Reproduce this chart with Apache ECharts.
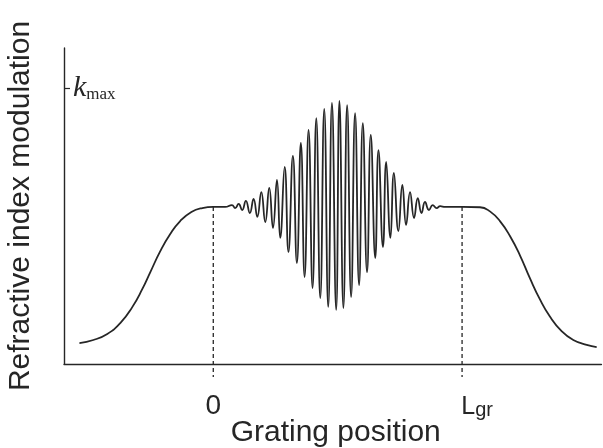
<!DOCTYPE html>
<html>
<head>
<meta charset="utf-8">
<script src="https://cdn.jsdelivr.net/npm/echarts@6/dist/echarts.min.js"></script>
<style>
  html, body { margin: 0; padding: 0; background: #ffffff; }
  #chart { width: 603px; height: 448px; }
</style>
</head>
<body>
<div id="chart"></div>
<script>
// Position along the fibre in % of the grating length L_gr,
// modulation depth in % of k_max.

// smooth ramp-up of the background index before the grating
const riseX = [-53.8, -48.2, -42.6, -37.3, -32.5, -28.5, -25.3, -21.3, -17.3, -13.3, -8.8, -4.4, 0];
const riseY = [7.6, 8.7, 10.9, 14.9, 20.7, 27.2, 33.3, 40.9, 47.1, 51.8, 55.1, 56.5, 56.9];

// apodised grating: successive maxima and minima of the index modulation
const gratingX = [4.8, 7.5, 8.8, 10.2, 11.6, 13.1, 14.7, 16.2, 17.7, 19.3, 20.9, 22.5, 24.0, 25.6, 26.9,
  28.7, 30.2, 32.0, 33.6, 35.2, 36.7, 38.3, 39.9, 41.4, 43.0, 44.6, 46.2, 47.7, 49.4, 50.7, 52.3, 53.8,
  55.4, 57.0, 58.6, 60.1, 61.8, 63.3, 65.1, 66.4, 68.2, 69.5, 71.2, 72.6, 74.4, 76.0, 77.5, 79.1, 80.7,
  82.2, 83.7, 85.1, 86.7, 88.2, 89.8, 91.2, 93.2, 100];
const gratingY = [56.9, 57.6, 56.5, 58.0, 55.8, 59.1, 54.7, 59.8, 53.3, 62.3, 51.4, 63.8, 49.3, 66.7, 45.7,
  71.4, 40.6, 75.4, 36.6, 80.1, 31.5, 84.8, 27.5, 89.1, 23.9, 92.4, 20.7, 94.6, 19.6, 95.3, 20.3, 93.8,
  24.3, 90.9, 28.6, 87.3, 33.3, 83.0, 38.4, 77.5, 42.4, 73.2, 45.7, 69.2, 48.2, 64.9, 50.4, 62.3, 52.9,
  60.1, 54.7, 58.7, 55.8, 57.6, 56.5, 57.2, 56.9, 56.9];

// smooth ramp-down after the grating
const fallX = [107.2, 111.2, 115.3, 119.3, 123.3, 127.3, 131.3, 135.3, 140.0, 144.7, 150.1, 154.1];
const fallY = [56.8, 55.3, 51.7, 46.3, 39.3, 31.0, 23.4, 17.2, 11.9, 8.7, 6.9, 6.1];

// tick marks and their labels
const xTickValues = [0, 100];
const xTickLabels = ['{n|0}', '{sp|}{l|L}{s|gr}'];
const yTickValues = [100];
const yTickLabels = ['{k|k}{m|max}'];

const profile = []
  .concat(riseX.map((x, i) => [x, riseY[i]]))
  .concat(gratingX.map((x, i) => [x, gratingY[i]]))
  .concat(fallX.map((x, i) => [x, fallY[i]]));

// dashed markers at both grating ends, running from the curve to just below the axis
const guideBottom = -4.7;
const startLevel = riseY[riseY.length - 1];
const endLevel = gratingY[gratingY.length - 1];

const ink = '#262626';
const sans = 'Liberation Sans, Arial, sans-serif';
const serif = 'Liberation Serif, Times New Roman, serif';

const chart = echarts.init(document.getElementById('chart'), null, { renderer: 'canvas' });
chart.setOption({
  animation: false,
  backgroundColor: '#ffffff',
  grid: { left: 64, right: 1.6, top: 48, bottom: 84, outerBoundsMode: 'none', containLabel: false },
  xAxis: {
    type: 'value',
    min: -60,
    max: 156,
    name: 'Grating position',
    nameLocation: 'middle',
    nameGap: 54,
    nameMoveOverlap: false,
    nameTextStyle: { fontFamily: sans, fontSize: 30, color: ink, padding: [0, 0, 0, 6] },
    axisLine: { show: true, onZero: false, lineStyle: { color: ink, width: 1.4 } },
    axisTick: { show: false },
    splitLine: { show: false },
    axisLabel: {
      customValues: xTickValues,
      margin: 28,
      color: ink,
      formatter: (v) => xTickLabels[xTickValues.indexOf(v)] || '',
      rich: {
        n: { fontFamily: sans, fontSize: 28, color: ink, lineHeight: 28 },
        sp: { width: 30, height: 10 },
        l: { fontFamily: sans, fontSize: 25, color: ink, lineHeight: 28, verticalAlign: 'bottom' },
        s: { fontFamily: sans, fontSize: 20, color: ink, lineHeight: 16, verticalAlign: 'bottom' }
      }
    }
  },
  yAxis: {
    type: 'value',
    min: 0,
    max: 114.5,
    name: 'Refractive index modulation',
    nameLocation: 'middle',
    nameGap: 28,
    nameMoveOverlap: false,
    nameTextStyle: { fontFamily: sans, fontSize: 30, color: ink },
    axisLine: { show: true, onZero: false, lineStyle: { color: ink, width: 1.4 } },
    axisTick: { show: true, inside: true, length: 6, customValues: yTickValues, lineStyle: { color: ink, width: 1.2 } },
    splitLine: { show: false },
    axisLabel: {
      customValues: yTickValues,
      inside: true,
      margin: 9,
      color: ink,
      formatter: (v) => yTickLabels[yTickValues.indexOf(v)] || '',
      rich: {
        k: { fontFamily: serif, fontStyle: 'italic', fontSize: 30, color: ink, lineHeight: 30, verticalAlign: 'bottom' },
        m: { fontFamily: serif, fontSize: 17, color: ink, lineHeight: 12, verticalAlign: 'bottom' }
      }
    }
  },
  series: [
    {
      type: 'line',
      data: profile,
      smooth: 0.5,
      symbol: 'none',
      lineStyle: { color: ink, width: 1.8 },
      z: 3
    },
    {
      type: 'line',
      data: [[xTickValues[0], startLevel], [xTickValues[0], guideBottom]],
      symbol: 'none',
      clip: false,
      lineStyle: { color: ink, width: 1.3, type: [4, 3] },
      z: 2
    },
    {
      type: 'line',
      data: [[xTickValues[1], endLevel], [xTickValues[1], guideBottom]],
      symbol: 'none',
      clip: false,
      lineStyle: { color: ink, width: 1.3, type: [4, 3] },
      z: 2
    }
  ]
});
</script>
</body>
</html>
